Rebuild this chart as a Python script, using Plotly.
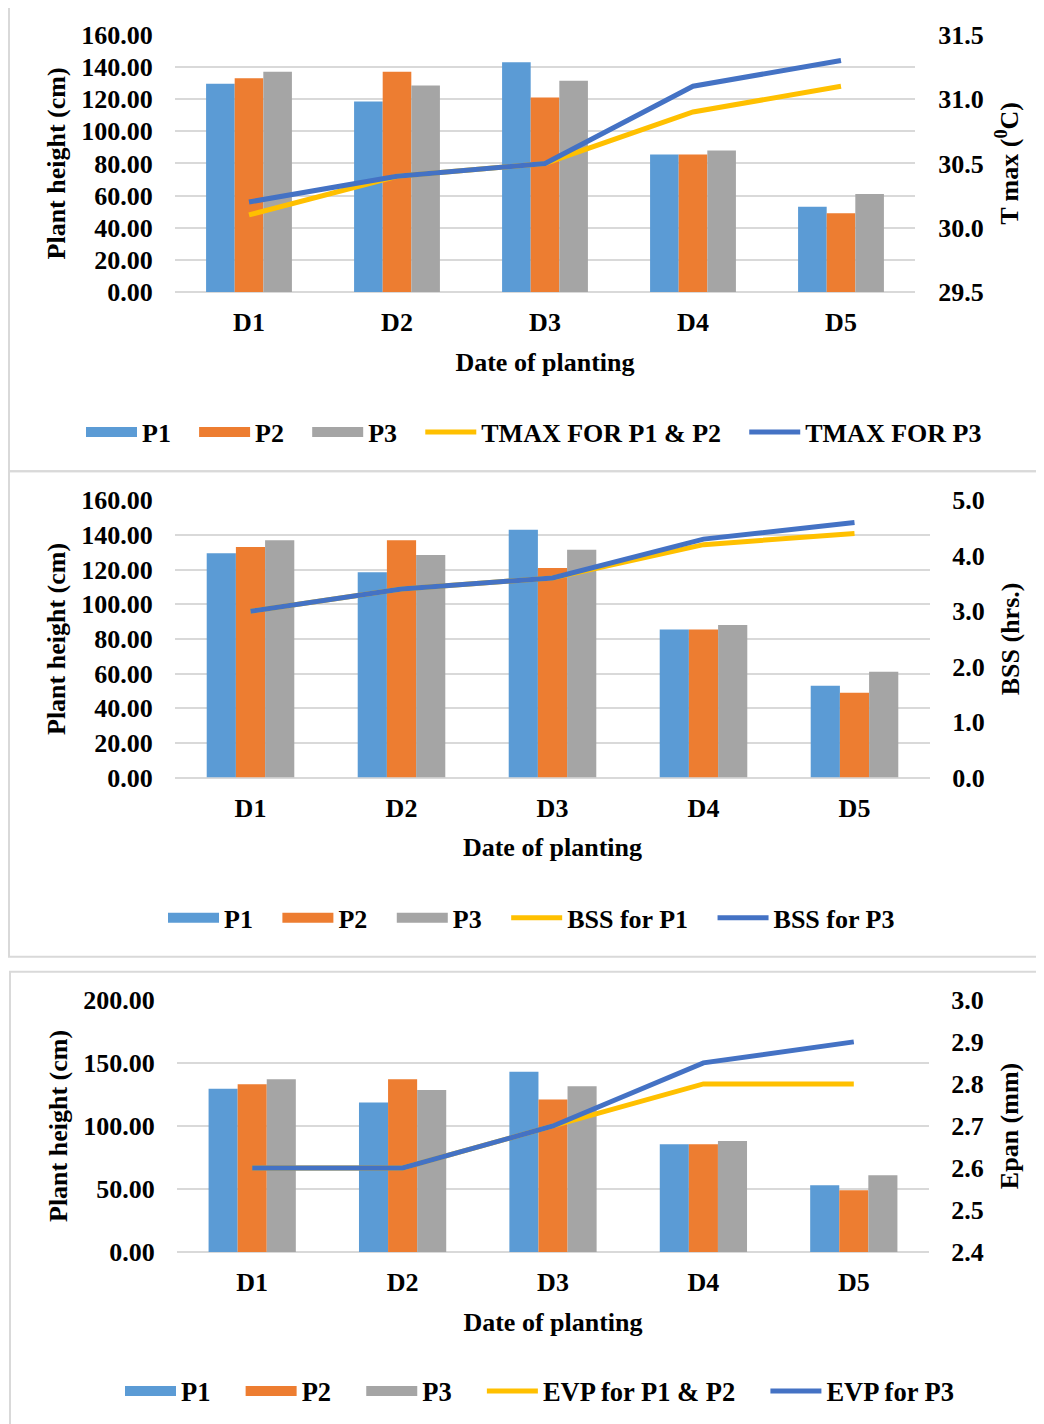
import plotly.graph_objects as go

# ---------------- data ----------------
dates = ["D1", "D2", "D3", "D4", "D5"]
p1 = [129.5, 118.5, 143.0, 85.5, 53.0]
p2 = [133.0, 137.0, 121.0, 85.5, 49.0]
p3 = [137.0, 128.5, 131.5, 88.0, 61.0]

tmax_p1p2 = [30.1, 30.4, 30.5, 30.9, 31.1]
tmax_p3 = [30.2, 30.4, 30.5, 31.1, 31.3]

bss_p1 = [3.0, 3.4, 3.6, 4.2, 4.4]
bss_p3 = [3.0, 3.4, 3.6, 4.3, 4.6]

evp_p1p2 = [2.6, 2.6, 2.7, 2.8, 2.8]
evp_p3 = [2.6, 2.6, 2.7, 2.85, 2.9]

bar_names = ["P1", "P2", "P3"]
bar_colors = ["#5B9BD5", "#ED7D31", "#A5A5A5"]
line_colors = ["#FFC000", "#4472C4"]

panel_lines = [
    (["TMAX FOR P1 & P2", "TMAX FOR P3"], [tmax_p1p2, tmax_p3]),
    (["BSS for P1", "BSS for P3"], [bss_p1, bss_p3]),
    (["EVP for P1 & P2", "EVP for P3"], [evp_p1p2, evp_p3]),
]
left_title = "Plant height (cm)"
x_title = "Date of planting"
right_titles = ["T max (<sup>0</sup>C)", "BSS (hrs.)", "Epan (mm)"]

# ---------------- geometry (page pixels) ----------------
OX = 8                  # horizontal page offset of the figure
SY, TY = 0.9786, 22.7   # vertical scale / offset of the photographed page
W, H = 1028, 1424
FONT = "Liberation Serif"


def fx(px):
    return (px - OX) / W


def fy(py):
    return 1 - (py / SY - TY) / H


# plot-area boxes (x0, x1, ytop, ybottom) in target pixels
boxes = [(175, 915, 35, 292), (175, 930, 500, 777), (177, 929, 999, 1251)]
legend_pos = [(81, 432), (163, 917), (120, 1390)]
legend_size = [26, 26, 26.5]
left_ranges = [(0, 160, 20, ".2f"), (0, 160, 20, ".2f"), (0, 200, 50, ".2f")]
right_ranges = [(29.5, 31.5, 0.5, ".1f"), (0, 5, 1, ".1f"), (2.4, 3.0, 0.1, ".1f")]
right_ticklen = [17, 16, 16]

# spacing after legend entries (non-breaking spaces)
pads = ["\u00a0\u00a0\u2009", "\u00a0\u00a0\u00a0", "\u00a0\u00a0\u00a0\u2009"]

fig = go.Figure()

tick_font = dict(family=FONT, size=26, color="black", weight="bold")
title_font = dict(family=FONT, size=26, color="black", weight="bold")

layout = dict(
    width=W, height=H, margin=dict(l=0, r=0, t=0, b=0),
    paper_bgcolor="white", plot_bgcolor="white",
    barmode="group", bargap=0.42, bargroupgap=0.0,
    font=dict(family=FONT, color="black"),
)

for i in range(3):
    xn = "x" if i == 0 else f"x{i+1}"
    yl = "y" if i == 0 else f"y{2*i+1}"
    yr = f"y{2*i+2}"
    legend_name = "legend" if i == 0 else f"legend{i+1}"
    x0, x1, yt, yb = boxes[i]
    PAD = pads[i]

    # bars (legend entries drawn as wide swatches)
    for name, vals, col in zip(bar_names, [p1, p2, p3], bar_colors):
        grp = f"{name}_{i}"
        fig.add_trace(go.Bar(
            x=dates, y=vals, name=name, marker=dict(color=col, line=dict(width=0)),
            xaxis=xn, yaxis=yl, legend=legend_name, legendgroup=grp, showlegend=False,
        ))
        fig.add_trace(go.Scatter(
            x=[None], y=[None], name=name + PAD, mode="lines",
            line=dict(color=col, width=14), xaxis=xn, yaxis=yl,
            legend=legend_name, legendgroup=grp, hoverinfo="skip",
        ))
    lnames, lvals = panel_lines[i]
    for k, (name, vals, col) in enumerate(zip(lnames, lvals, line_colors)):
        fig.add_trace(go.Scatter(
            x=dates, y=vals, name=name + (PAD if k == 0 else ""), mode="lines",
            line=dict(color=col, width=5),
            xaxis=xn, yaxis=yr, legend=legend_name,
        ))

    xkey = "xaxis" if i == 0 else f"xaxis{i+1}"
    ylkey = "yaxis" if i == 0 else f"yaxis{2*i+1}"
    yrkey = f"yaxis{2*i+2}"

    layout[xkey] = dict(
        domain=[fx(x0), fx(x1)], anchor=yl, type="category",
        showgrid=False, showline=False, zeroline=False,
        ticks="outside", ticklen=7, tickcolor="rgba(0,0,0,0)",
        tickfont=tick_font,
        title=dict(text=x_title, font=title_font, standoff=16),
    )
    lo, hi, dt, fmt = left_ranges[i]
    layout[ylkey] = dict(
        domain=[fy(yb), fy(yt)], anchor=xn,
        range=[lo, hi], dtick=dt, tick0=lo, tickformat=fmt,
        showgrid=True, gridcolor="#D9D9D9", gridwidth=2,
        zeroline=True, zerolinecolor="#D9D9D9", zerolinewidth=2,
        showline=False,
        ticks="outside", ticklen=16, tickcolor="rgba(0,0,0,0)",
        tickfont=tick_font,
        title=dict(text=left_title, font=title_font, standoff=8),
    )
    rlo, rhi, rdt, rfmt = right_ranges[i]
    layout[yrkey] = dict(
        overlaying=yl, side="right", anchor=xn,
        range=[rlo, rhi], dtick=rdt, tick0=rlo, tickformat=rfmt,
        showgrid=False, zeroline=False, showline=False,
        ticks="outside", ticklen=right_ticklen[i], tickcolor="rgba(0,0,0,0)",
        tickfont=tick_font,
        title=dict(text=right_titles[i], font=title_font, standoff=17),
    )
    lx, ly = legend_pos[i]
    layout[legend_name] = dict(
        orientation="h", x=fx(lx), xanchor="left",
        y=fy(ly), yanchor="middle", itemwidth=51,
        font=dict(family=FONT, size=legend_size[i], color="black", weight="bold"),
        bgcolor="rgba(0,0,0,0)", traceorder="normal", itemclick=False,
        itemdoubleclick=False,
    )

# panel border boxes (target pixels)
shapes = []
for (bx0, by0, bx1, by1) in [(9, 5, 1060, 471), (9, 471, 1060, 956), (10, 971, 1060, 1440)]:
    shapes.append(dict(type="rect", xref="paper", yref="paper",
                       x0=fx(bx0), x1=fx(bx1), y0=fy(by1), y1=fy(by0),
                       line=dict(color="#D9D9D9", width=2), fillcolor="rgba(0,0,0,0)",
                       layer="below"))
layout["shapes"] = shapes

fig.update_layout(**layout)
fig.write_html("out.html")
